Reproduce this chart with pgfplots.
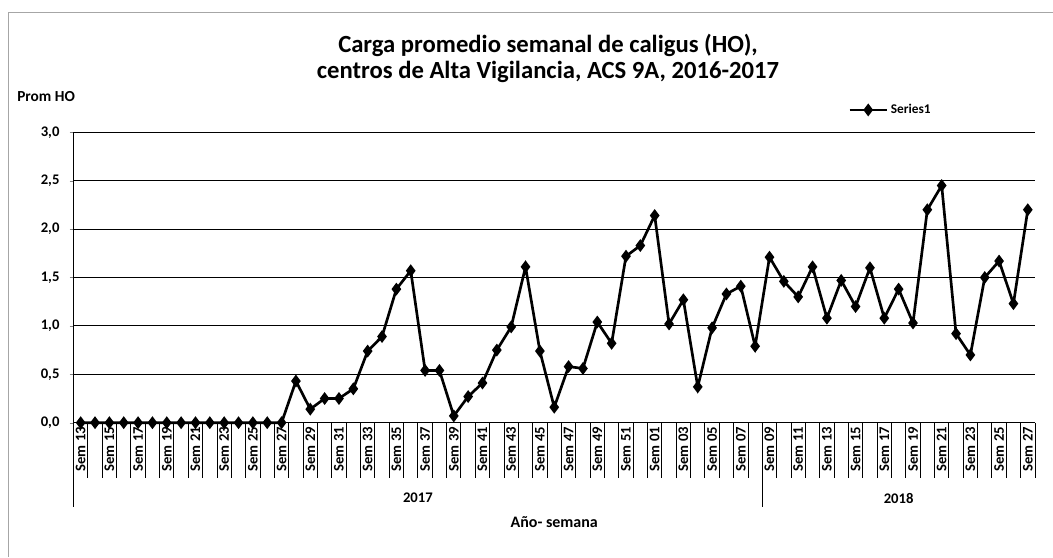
\documentclass[border=0pt]{standalone}
\usepackage{fontspec}
\setmainfont{Carlito}
\usepackage{pgfplots}
\pgfplotsset{compat=1.18}
\pgfplotstableread{
x y
0 0
1 0
2 0
3 0
4 0
5 0
6 0
7 0
8 0
9 0
10 0
11 0
12 0
13 0
14 0
15 0.43
16 0.14
17 0.25
18 0.25
19 0.35
20 0.74
21 0.89
22 1.38
23 1.57
24 0.54
25 0.54
26 0.07
27 0.27
28 0.41
29 0.75
30 0.99
31 1.61
32 0.74
33 0.16
34 0.58
35 0.56
36 1.04
37 0.82
38 1.72
39 1.83
40 2.14
41 1.02
42 1.27
43 0.37
44 0.98
45 1.33
46 1.41
47 0.79
48 1.71
49 1.46
50 1.30
51 1.61
52 1.08
53 1.47
54 1.20
55 1.60
56 1.08
57 1.38
58 1.03
59 2.20
60 2.45
61 0.92
62 0.70
63 1.50
64 1.67
65 1.23
66 2.20
}\datatable
\begin{document}
\begin{tikzpicture}[x=0.75pt,y=0.75pt]
\useasboundingbox (0,0) rectangle (1053,557);
\draw[gray!70, line width=0.6pt] (8,0) -- (8,545) -- (1053,545);
\node[font=\bfseries\fontsize{18.5}{22}\selectfont] at (548,512) {Carga promedio semanal de caligus (HO),};
\node[font=\bfseries\fontsize{18.5}{22}\selectfont] at (548,485) {centros de Alta Vigilancia, ACS 9A, 2016-2017};
\node[font=\bfseries\fontsize{11.5}{13}\selectfont, anchor=west, inner sep=0pt] at (17,460) {Prom HO};
\begin{axis}[
  at={(55.125pt,100.725pt)}, anchor=south west,
  scale only axis, width=721.1pt, height=217.8pt,
  xmin=-0.5, xmax=66.5, ymin=0, ymax=3,
  clip=false,
  axis lines=left, axis line style={-, black, line width=0.8pt},
  ytick={0,0.5,...,3}, ymajorgrids,
  grid style={black, line width=0.8pt},
  ytick align=outside, major tick length=3pt,
  yticklabel style={font=\bfseries\fontsize{11}{13}\selectfont, xshift=-4pt, /pgf/number format/.cd, use comma, fixed, fixed zerofill, precision=1, assume math mode=true},
  xtick={0,2,...,66},
  xticklabels={Sem 13,Sem 15,Sem 17,Sem 19,Sem 21,Sem 23,Sem 25,Sem 27,Sem 29,Sem 31,Sem 33,Sem 35,Sem 37,Sem 39,Sem 41,Sem 43,Sem 45,Sem 47,Sem 49,Sem 51,Sem 01,Sem 03,Sem 05,Sem 07,Sem 09,Sem 11,Sem 13,Sem 15,Sem 17,Sem 19,Sem 21,Sem 23,Sem 25,Sem 27},
  x tick style={draw=none},
  xticklabel style={rotate=90, anchor=east, font=\bfseries\fontsize{11}{13}\selectfont, inner sep=1.5pt},
  legend style={at={(rel axis cs:0.8055,1.077)}, anchor=west, draw=none, fill=none, font=\bfseries\fontsize{10}{11}\selectfont, inner sep=0pt},
  legend image code/.code={\draw[#1, mark repeat=2, mark phase=2] plot coordinates {(0pt,0pt) (14pt,0pt) (28pt,0pt)};},
]
\addplot[black, line width=2pt, mark=diamond*, mark size=3.2pt, mark options={solid}] table[x=x,y=y] {\datatable};
\addlegendentry{Series1}
\pgfplotsinvokeforeach{-0.5,0.5,...,66.5}{
  \draw[black, line width=0.7pt] (axis cs:#1,0) -- ([yshift=-41.5pt]axis cs:#1,0);
}
\draw[black, line width=0.7pt] (axis cs:-0.5,0) -- ([yshift=-63.2pt]axis cs:-0.5,0);
\draw[black, line width=0.7pt] (axis cs:47.5,0) -- ([yshift=-63.2pt]axis cs:47.5,0);
\node[font=\bfseries\fontsize{11}{13}\selectfont] at ([yshift=-56.5pt]axis cs:23.5,0) {2017};
\node[font=\bfseries\fontsize{11}{13}\selectfont] at ([yshift=-56.5pt]axis cs:57,0) {2018};
\node[font=\bfseries\fontsize{12}{14}\selectfont] at ([yshift=-74.5pt]rel axis cs:0.5,0) {Año- semana};
\end{axis}
\end{tikzpicture}
\end{document}
